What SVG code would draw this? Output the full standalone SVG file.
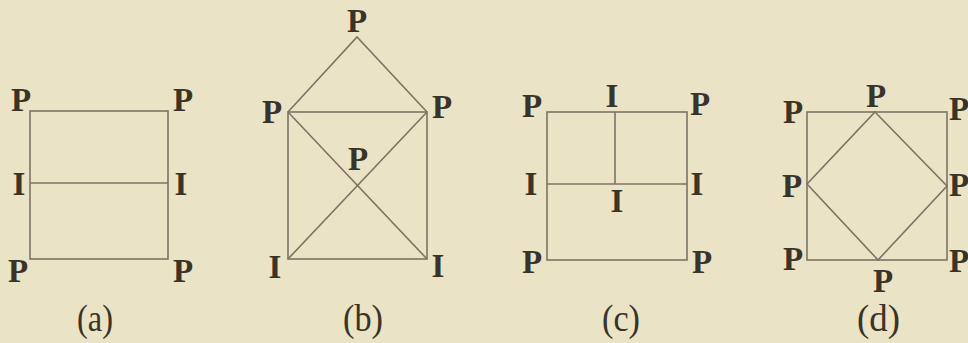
<svg xmlns="http://www.w3.org/2000/svg" width="968" height="343" viewBox="0 0 968 343">
<style>
.bg{fill:#eae3c6}
.ln{stroke:#7c7464;stroke-width:1.6;fill:none}
.t{font-family:"Liberation Serif","Times New Roman",serif;font-size:33px;fill:#3a3327;text-anchor:middle;font-weight:bold}
.te{text-anchor:start}
.cap{font-family:"Liberation Serif","Times New Roman",serif;font-size:37px;fill:#3a3327}
</style>
<rect class="bg" x="0" y="0" width="968" height="343"/>
<g id="connectors">
  <g id="edges-a">
    <rect class="ln" x="30" y="111" width="138" height="148"/>
    <line class="ln" x1="30" y1="183" x2="168" y2="183"/>
  </g>
  <g id="edges-b">
    <polyline class="ln" points="288,112 357,37 427,112"/>
    <rect class="ln" x="288" y="112" width="139" height="147"/>
    <line class="ln" x1="288" y1="112" x2="427" y2="259"/>
    <line class="ln" x1="427" y1="112" x2="288" y2="259"/>
  </g>
  <g id="edges-c">
    <rect class="ln" x="547" y="112" width="140" height="148"/>
    <line class="ln" x1="547" y1="184" x2="687" y2="184"/>
    <line class="ln" x1="615" y1="112" x2="615" y2="184"/>
  </g>
  <g id="edges-d">
    <rect class="ln" x="807" y="112" width="140" height="148"/>
    <polygon class="ln" points="875,112 947,186 878,260 807,184"/>
  </g>
</g>
<g id="a-tl"><text class="t" x="21" y="111">P</text></g>
<g id="a-tr"><text class="t" x="183" y="111">P</text></g>
<g id="a-ml"><text class="t" x="19" y="195">I</text></g>
<g id="a-mr"><text class="t" x="181" y="195">I</text></g>
<g id="a-bl"><text class="t" x="18" y="282">P</text></g>
<g id="a-br"><text class="t" x="183" y="282">P</text></g>

<g id="b-top"><text class="t" x="357" y="32">P</text></g>
<g id="b-tl"><text class="t" x="272" y="123">P</text></g>
<g id="b-tr"><text class="t" x="442" y="118">P</text></g>
<g id="b-mid"><text class="t" x="358" y="170">P</text></g>
<g id="b-bl"><text class="t" x="275" y="278">I</text></g>
<g id="b-br"><text class="t" x="438" y="277">I</text></g>

<g id="c-tl"><text class="t" x="532" y="117">P</text></g>
<g id="c-top"><text class="t" x="612" y="107">I</text></g>
<g id="c-tr"><text class="t" x="700" y="115">P</text></g>
<g id="c-ml"><text class="t" x="531" y="195">I</text></g>
<g id="c-mr"><text class="t" x="697" y="195">I</text></g>
<g id="c-mid"><text class="t" x="617" y="212">I</text></g>
<g id="c-bl"><text class="t" x="532" y="273">P</text></g>
<g id="c-br"><text class="t" x="702" y="273">P</text></g>

<g id="d-tl"><text class="t" x="793" y="123">P</text></g>
<g id="d-top"><text class="t" x="876" y="107">P</text></g>
<g id="d-tr"><text class="t te" x="949" y="120">P</text></g>
<g id="d-ml"><text class="t" x="792" y="197">P</text></g>
<g id="d-mr"><text class="t te" x="949" y="196">P</text></g>
<g id="d-bl"><text class="t" x="793" y="270">P</text></g>
<g id="d-br"><text class="t te" x="949" y="272">P</text></g>
<g id="d-bot"><text class="t" x="883" y="292">P</text></g>

<g id="captions">
  <text class="cap" x="77" y="331" textLength="36" lengthAdjust="spacingAndGlyphs">(a)</text>
  <text class="cap" x="343" y="331" textLength="40" lengthAdjust="spacingAndGlyphs">(b)</text>
  <text class="cap" x="602" y="331" textLength="38" lengthAdjust="spacingAndGlyphs">(c)</text>
  <text class="cap" x="857" y="331" textLength="43" lengthAdjust="spacingAndGlyphs">(d)</text>
</g>
</svg>
